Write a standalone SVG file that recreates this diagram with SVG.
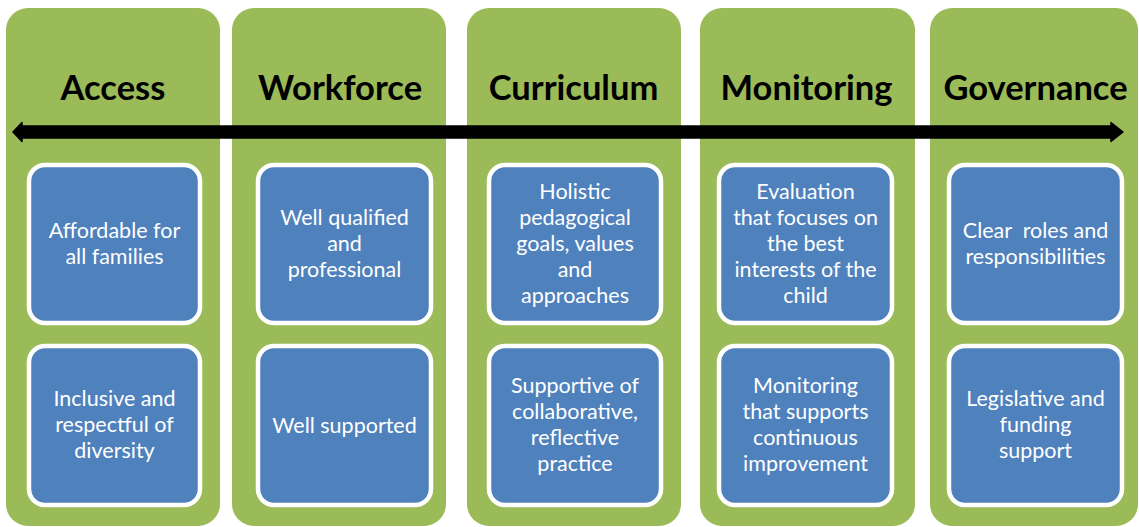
<svg xmlns="http://www.w3.org/2000/svg" width="1139" height="527" viewBox="0 0 1139 527">
<style>
.col{fill:#9BBB59;}
.box{fill:#4F81BD;stroke:#FFFFFF;stroke-width:4.5;}
.hd{font-family:Lato,"Liberation Sans",sans-serif;font-weight:bold;font-size:34.5px;fill:#000;text-anchor:middle;}
.tx{font-family:Lato,"Liberation Sans",sans-serif;font-size:21.5px;fill:#FFFFFF;text-anchor:middle;}
</style>
<rect width="1139" height="527" fill="#FFFFFF"/>
<g id="col-access">
<rect class="col" x="6" y="8" width="214" height="518" rx="22"/>
<text class="hd" x="113" y="99.5">Access</text>
</g>
<g id="col-workforce">
<rect class="col" x="232" y="8" width="214" height="518" rx="22"/>
<text class="hd" x="340" y="99.5">Workforce</text>
</g>
<g id="col-curriculum">
<rect class="col" x="467" y="8" width="214" height="518" rx="22"/>
<text class="hd" x="573.5" y="99.5">Curriculum</text>
</g>
<g id="col-monitoring">
<rect class="col" x="700" y="8" width="215" height="518" rx="22"/>
<text class="hd" x="806.5" y="99.5">Monitoring</text>
</g>
<g id="col-governance">
<rect class="col" x="930" y="8" width="208" height="518" rx="22"/>
<text class="hd" x="1035.5" y="99.5">Governance</text>
</g>
<g id="connectors">
<path d="M13,132 L22,122.5 L22,126 L1111,126 L1111,122.5 L1123,132 L1111,141.5 L1111,138 L22,138 L22,141.5 Z" fill="#000" stroke="#000" stroke-width="1.5" stroke-linejoin="round"/>
</g>
<g id="box-access-1">
<rect class="box" x="29" y="165" width="171" height="158" rx="16"/>
<text class="tx"><tspan x="114.5" y="237.5">Affordable for</tspan><tspan x="114.5" y="263.5">all families</tspan></text>
</g>
<g id="box-access-2">
<rect class="box" x="29" y="346" width="171" height="159" rx="16"/>
<text class="tx"><tspan x="114.5" y="406">Inclusive and</tspan><tspan x="114.5" y="432">respectful of</tspan><tspan x="114.5" y="458">diversity</tspan></text>
</g>
<g id="box-workforce-1">
<rect class="box" x="258" y="165" width="173" height="158" rx="16"/>
<text class="tx"><tspan x="344.5" y="224.5">Well qualified</tspan><tspan x="344.5" y="250.5">and</tspan><tspan x="344.5" y="276.5">professional</tspan></text>
</g>
<g id="box-workforce-2">
<rect class="box" x="258" y="346" width="173" height="159" rx="16"/>
<text class="tx"><tspan x="344.5" y="433">Well supported</tspan></text>
</g>
<g id="box-curriculum-1">
<rect class="box" x="489" y="165" width="172" height="158" rx="16"/>
<text class="tx"><tspan x="575" y="198.5">Holistic</tspan><tspan x="575" y="224.5">pedagogical</tspan><tspan x="575" y="250.5">goals, values</tspan><tspan x="575" y="276.5">and</tspan><tspan x="575" y="302.5">approaches</tspan></text>
</g>
<g id="box-curriculum-2">
<rect class="box" x="489" y="346" width="172" height="159" rx="16"/>
<text class="tx"><tspan x="575" y="393">Supportive of</tspan><tspan x="575" y="419">collaborative,</tspan><tspan x="575" y="445">reflective</tspan><tspan x="575" y="471">practice</tspan></text>
</g>
<g id="box-monitoring-1">
<rect class="box" x="719" y="165" width="173" height="158" rx="16"/>
<text class="tx"><tspan x="805.5" y="198.5">Evaluation</tspan><tspan x="805.5" y="224.5">that focuses on</tspan><tspan x="805.5" y="250.5">the best</tspan><tspan x="805.5" y="276.5">interests of the</tspan><tspan x="805.5" y="302.5">child</tspan></text>
</g>
<g id="box-monitoring-2">
<rect class="box" x="719" y="346" width="173" height="159" rx="16"/>
<text class="tx"><tspan x="805.5" y="393">Monitoring</tspan><tspan x="805.5" y="419">that supports</tspan><tspan x="805.5" y="445">continuous</tspan><tspan x="805.5" y="471">improvement</tspan></text>
</g>
<g id="box-governance-1">
<rect class="box" x="949" y="165" width="173" height="158" rx="16"/>
<text class="tx"><tspan x="1035.5" y="237.5">Clear &#160;roles and</tspan><tspan x="1035.5" y="263.5">responsibilities</tspan></text>
</g>
<g id="box-governance-2">
<rect class="box" x="949" y="346" width="173" height="159" rx="16"/>
<text class="tx"><tspan x="1035.5" y="406">Legislative and</tspan><tspan x="1035.5" y="432">funding</tspan><tspan x="1035.5" y="458">support</tspan></text>
</g>
</svg>
